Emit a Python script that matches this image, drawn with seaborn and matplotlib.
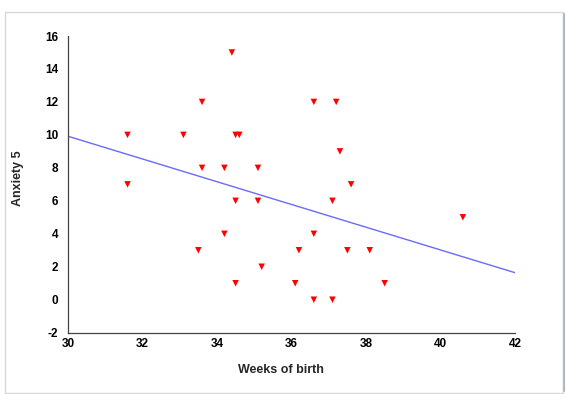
import matplotlib
matplotlib.use("Agg")
import matplotlib.pyplot as plt
import seaborn as sns
import pandas as pd
from matplotlib.patches import Rectangle
from matplotlib.lines import Line2D

weeks = [31.6, 31.6, 33.1, 33.6, 34.4, 34.5, 34.6, 33.6, 34.2, 35.1,
         34.5, 35.1, 34.2, 33.5, 35.2, 34.5, 36.1, 36.2, 36.6, 36.6,
         37.1, 36.6, 37.2, 37.3, 37.6, 37.1, 37.5, 38.1, 38.5, 40.6]
anxiety = [10, 7, 10, 12, 15, 10, 10, 8, 8, 8,
           6, 6, 4, 3, 2, 1, 1, 3, 4, 0,
           0, 12, 12, 9, 7, 6, 3, 3, 1, 5]
trend_x = [30, 42]
trend_y = [9.92, 1.64]
x_ticks = [30, 32, 34, 36, 38, 40, 42]
y_ticks = [-2, 0, 2, 4, 6, 8, 10, 12, 14, 16]

sns.set_style("white")
plt.rcParams['font.family'] = ['Liberation Sans', 'DejaVu Sans']

df = pd.DataFrame({"Weeks of birth": weeks, "Anxiety 5": anxiety})
tr = pd.DataFrame({"x": trend_x, "y": trend_y})

fig = plt.figure(figsize=(5.66, 3.94), dpi=100)
ax = fig.add_axes([0.120, 0.1556, 0.790, 0.753])

sns.lineplot(data=tr, x="x", y="y", ax=ax, color="#6a6aff", linewidth=1.0)
sns.scatterplot(data=df, x="Weeks of birth", y="Anxiety 5", ax=ax,
                marker="v", color="#ff0000", s=22, edgecolor="none", zorder=3)

ax.set_xlim(30, 42)
ax.set_ylim(-2, 16)
ax.set_xticks(x_ticks)
ax.set_yticks(y_ticks)
ax.set_xticklabels([str(t) for t in x_ticks], fontsize=8.5, fontweight="bold")
ax.set_yticklabels([str(t) for t in y_ticks], fontsize=8.5, fontweight="bold")
ax.tick_params(direction="in", length=3, width=0.8, colors="#333333")
ax.tick_params(axis="y", pad=7)
ax.tick_params(axis="x", pad=3.5)
for lab in ax.get_xticklabels() + ax.get_yticklabels():
    lab.set_color("black")
for s in ["top", "right"]:
    ax.spines[s].set_visible(False)
for s in ["left", "bottom"]:
    ax.spines[s].set_color("#444444")
    ax.spines[s].set_linewidth(0.9)

ax.set_xlabel("Weeks of birth", fontsize=9, fontweight="bold")
ax.set_ylabel("Anxiety 5", fontsize=9, fontweight="bold")
ax.xaxis.set_label_coords((281 - 68) / 447, (332.7 - 364) / 296.7)
ax.yaxis.set_label_coords((24 - 68) / 447, (332.7 - 178) / 296.7)

# outer chart frame
fig.patches.append(Rectangle((5 / 566, 1.5 / 394), 558 / 566, (394 - 12.3 - 1.5) / 394,
                             transform=fig.transFigure, fill=False,
                             edgecolor="#d8d8d8", linewidth=1.0))
fig.lines.append(Line2D([563.5 / 566, 563.5 / 566], [3 / 394, 380 / 394],
                        transform=fig.transFigure, color="#a9b9cc", linewidth=1.5))

fig.savefig("out.png", dpi=100)
